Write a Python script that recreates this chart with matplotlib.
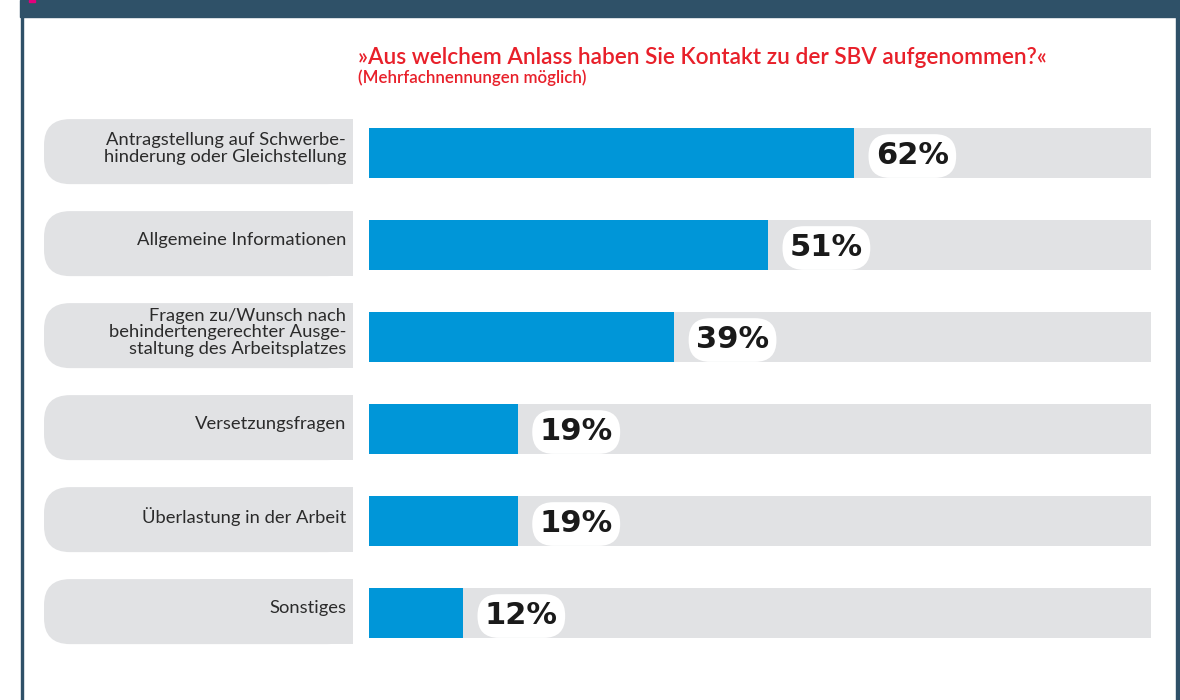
import matplotlib
matplotlib.use("Agg")
from matplotlib import pyplot as plt
from matplotlib.patches import FancyBboxPatch, Rectangle
import numpy as np

categories = [
    "Antragstellung auf Schwerbe-\nhinderung oder Gleichstellung",
    "Allgemeine Informationen",
    "Fragen zu/Wunsch nach\nbehindertengerechter Ausge-\nstaltung des Arbeitsplatzes",
    "Versetzungsfragen",
    "Überlastung in der Arbeit",
    "Sonstiges",
]
values = [62, 51, 39, 19, 19, 12]
value_labels = ["62%", "51%", "39%", "19%", "19%", "12%"]
title = "»Aus welchem Anlass haben Sie Kontakt zu der SBV aufgenommen?«"
subtitle = "(Mehrfachnennungen möglich)"

slate = "#2f5168"
blue = "#0096d8"
gray = "#e1e2e4"
red = "#e8202a"
textc = "#2b2b2b"

W, H = 1180, 700
fig = plt.figure(figsize=(W / 100, H / 100), dpi=100)

# frame, header band and title in pixel units
bg = fig.add_axes([0, 0, 1, 1])
bg.set_xlim(0, W)
bg.set_ylim(H, 0)
bg.axis('off')
bg.add_patch(Rectangle((20, 0), 1160, 17, color=slate))
bg.add_patch(Rectangle((20.5, 0), 2.5, H, color=slate))
bg.add_patch(Rectangle((1176, 0), 2.5, H, color=slate))
bg.add_patch(Rectangle((29, 0), 6, 2, color="#e4007c"))
bg.text(358, 58, title, color=red, fontsize=16.3, family="Lato",
        fontweight='semibold', ha='left', va='center')
bg.text(358, 78, subtitle, color=red, fontsize=12.2, family="Lato",
        fontweight='semibold', ha='left', va='center')

# bars
rows = np.arange(len(categories))
box = [369 / W, (H - 659) / H, 782 / W, 552 / H]
ax = fig.add_axes(box)
ax.set_xlim(0, 100)
ax.set_ylim(len(categories) - 0.5, -0.5)
ax.barh(rows, 100, height=0.54, color=gray)
ax.barh(rows, values, height=0.54, color=blue)
ax.axis('off')
for i, (v, lab) in enumerate(zip(values, value_labels)):
    ax.annotate(lab, xy=(v, i), xytext=(22, 0), textcoords='offset pixels',
                ha='left', va='center_baseline', fontsize=22, fontweight='bold',
                family="DejaVu Sans", color="#1a1a1a",
                bbox=dict(boxstyle='round,pad=0.24,rounding_size=0.7',
                          fc='white', ec='none'))

# category label pills (x in pixels, y shared with bars)
lab_ax = fig.add_axes([0, box[1], 369 / W, box[3]], sharey=ax)
lab_ax.set_xlim(0, 369)
lab_ax.axis('off')
px_per_row = 92
ph = 65 / px_per_row
for i, cat in enumerate(categories):
    lab_ax.add_patch(FancyBboxPatch((44, i - 0.015 - ph / 2), 309, ph,
                                    boxstyle='round,pad=0,rounding_size=26',
                                    mutation_aspect=1 / px_per_row,
                                    fc=gray, ec='none'))
    lab_ax.add_patch(Rectangle((200, i - 0.015 - ph / 2), 153, ph, fc=gray, ec='none'))
    lab_ax.text(346, i - 0.05, cat, ha='right', va='center', fontsize=13.2,
                family="Lato", color=textc, linespacing=1.05)

fig.savefig("out.png", dpi=100)
